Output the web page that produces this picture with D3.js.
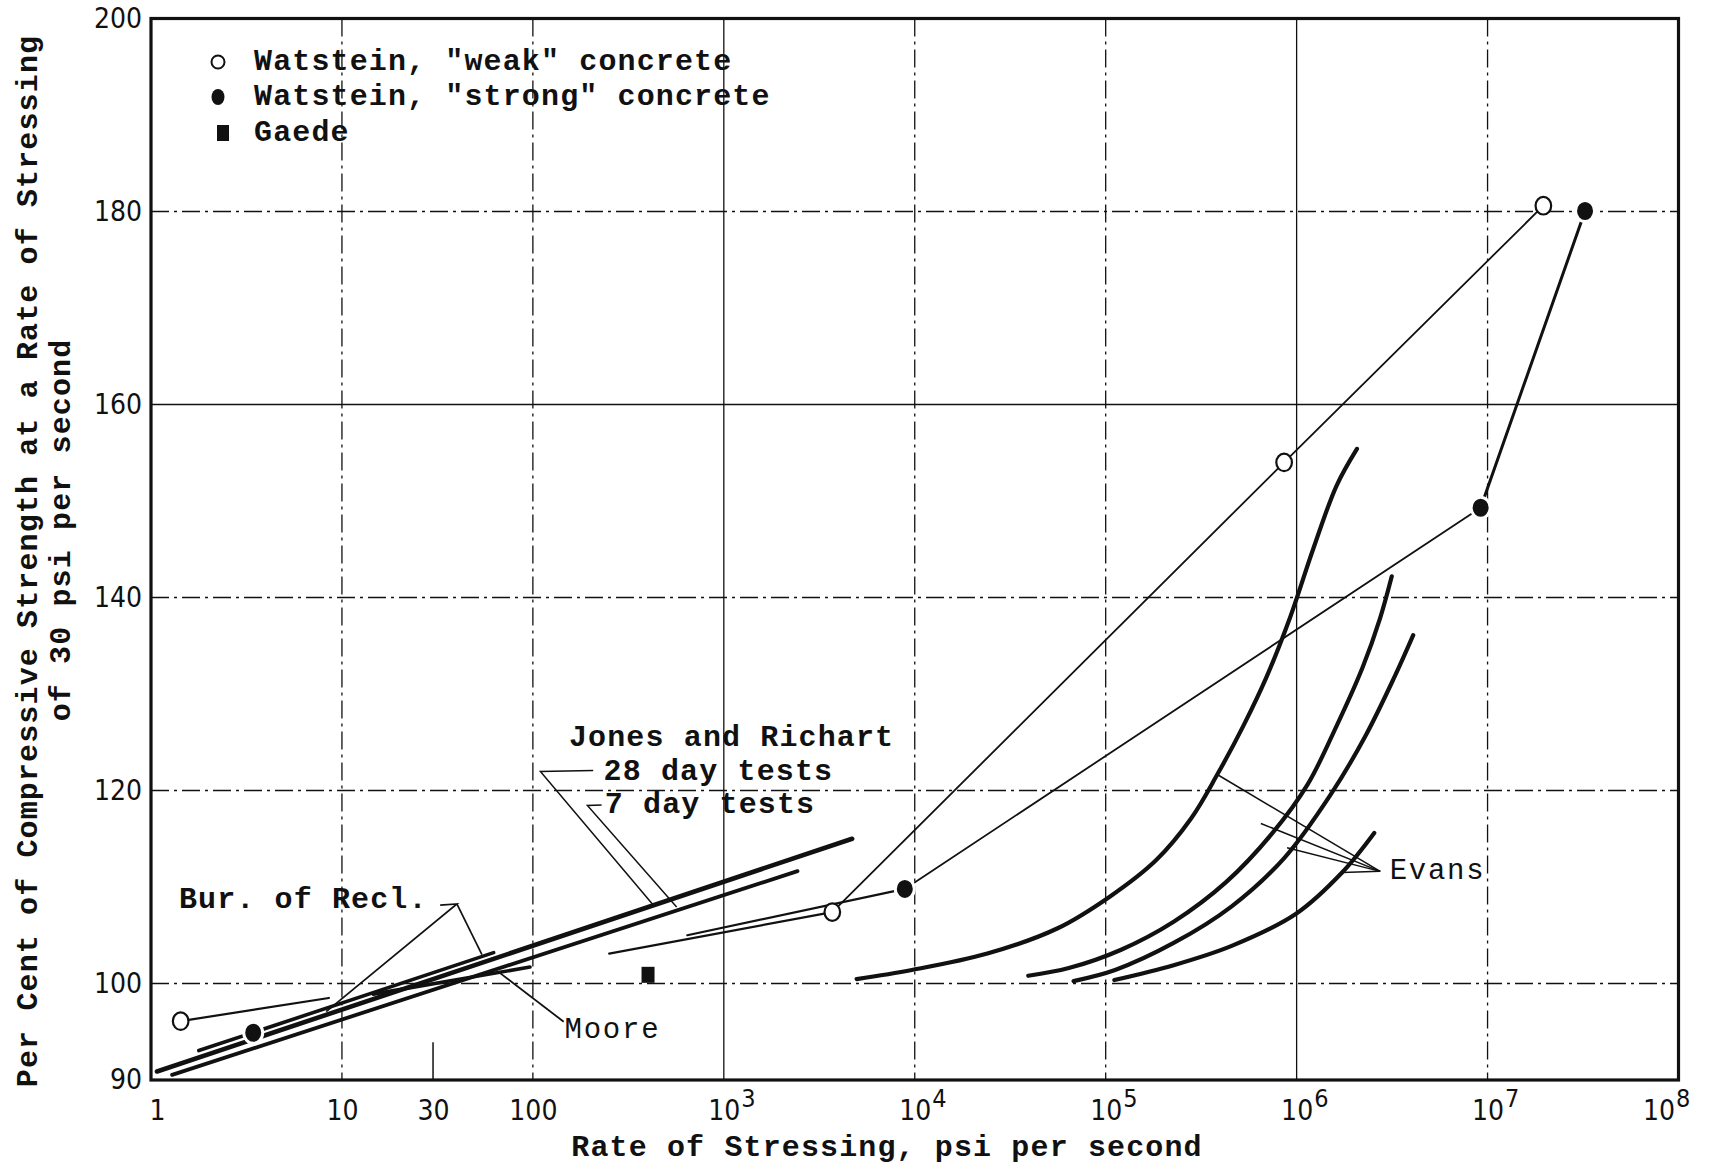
<!DOCTYPE html>
<html><head><meta charset="utf-8">
<script src="https://cdn.jsdelivr.net/npm/d3@7"></script>
<style>
html,body{margin:0;padding:0;background:#fff;}
svg{display:block;background:#fff;}
</style></head><body>
<svg id="chart" width="1709" height="1171"></svg>
<script>
// ---------------- data ----------------
const xTickValues = [1, 10, 30, 100, 1e3, 1e4, 1e5, 1e6, 1e7, 1e8];
const xTickBase   = ["1", "10", "30", "100", "10", "10", "10", "10", "10", "10"];
const xTickExp    = ["", "", "", "", "3", "4", "5", "6", "7", "8"];
const yTickValues = [90, 100, 120, 140, 160, 180, 200];
const gridX = [10, 100, 1e3, 1e4, 1e5, 1e6, 1e7];
const gridY = [100, 120, 140, 160, 180];
const shortMarkX = [30];

const weakPts   = [[1.43, 96.1], [3700, 107.4], [8.6e5, 154.0], [1.96e7, 180.6]];
const strongPts = [[3.43, 94.9], [8870, 109.8], [9.2e6, 149.3], [3.24e7, 180.05]];
const gaedePts  = [[401, 100.9]];

const weakLowFit   = [[1.43, 96.1], [8.54, 98.5]];
const weakMidFit   = [[251, 103.1], [3700, 107.4]];
const strongMidFit = [[644, 105.0], [8870, 109.8]];
const jones28 = [[1.075, 90.88], [4700, 115.0]];
const jones7  = [[1.29, 90.53], [2432, 111.65]];
const burRecl = [[1.78, 93.05], [62.3, 103.2]];
const moore   = [[14.6, 98.9], [96.6, 101.7]];

const evans1 = [[4960,100.46],[9660,101.4],[24000,103.1],[55700,105.7],[105000,109.0],[184000,112.8],[280000,117.1],[384000,121.65],[526000,126.7],[697000,131.8],[923000,137.9],[1.22e6,145.0],[1.62e6,151.6],[2.07e6,155.4]];
const evans2 = [[39300,100.8],[64100,101.6],[120500,103.5],[227000,106.4],[427000,110.5],[748000,115.6],[1.14e6,120.6],[1.62e6,126.7],[2.22e6,132.8],[2.74e6,137.9],[3.15e6,142.2]];
const evans3 = [[67900,100.25],[112000,101.4],[227000,104.2],[457000,108.0],[861000,113.0],[1.51e6,119.6],[2.30e6,125.7],[3.26e6,131.8],[4.08e6,136.1]];
const evans4 = [[111000,100.36],[227000,101.9],[457000,103.9],[989000,107.2],[1.73e6,111.5],[2.55e6,115.6]];

const legendLabels = ['Watstein, "weak" concrete', 'Watstein, "strong" concrete', 'Gaede'];

const leaderJones28 = [[207, 122.06], [109.5, 121.96], [429, 108.09]];
const leaderJones7  = [[229, 118.5], [193, 118.44], [566, 107.92]];
const leaderBurA    = [[32.7, 108.13], [40, 108.24], [8.27, 97.08]];
const leaderBurB    = [[40, 108.24], [54.1, 102.98]];
const leaderMoore   = [[67.6, 101.05], [145, 96.04]];
const evansApex     = [2.74e6, 111.62];
const evansTargets  = [[3.84e5, 121.66], [6.5e5, 116.58], [8.91e5, 114.06], [1.73e6, 111.51]];

const notes = [
  {text: "Jones and Richart", x: 154.5, y: 125.4, bold: true},
  {text: "28 day tests", x: 234.6, y: 121.9, bold: true},
  {text: "7 day tests", x: 238, y: 118.45, bold: true},
  {text: "Bur. of Recl.", x: 1.40, y: 108.66, bold: true},
  {text: "Moore", x: 146.6, y: 95.17, bold: false},
  {text: "Evans", x: 3.07e6, y: 111.57, bold: false}
];

// ---------------- drawing ----------------
const svg = d3.select("#chart");
const x = d3.scaleLog().domain([1, 1e8]).range([151, 1678.5]);
const y = d3.scaleLinear().domain([90, 200]).range([1080, 18.5]);
const line = d3.line().x(d => x(d[0])).y(d => y(d[1]));
const curve = d3.line().x(d => x(d[0])).y(d => y(d[1])).curve(d3.curveCatmullRom.alpha(0.5));

const TW = '"Liberation Mono","Courier New","DejaVu Sans Mono",monospace';
const NUM = '"Liberation Sans Narrow","DejaVu Sans Condensed","Liberation Sans",sans-serif';
const ink = "#111";

// grid
const dashDot = "18,5,3,5";
const solidX = new Set([1e3, 1e6]);
svg.append("g").selectAll("line").data(gridX).join("line")
  .attr("x1", d => x(d)).attr("x2", d => x(d))
  .attr("y1", y(200)).attr("y2", y(90))
  .attr("stroke", ink).attr("stroke-width", 1.3)
  .attr("stroke-dasharray", d => solidX.has(d) ? null : dashDot);
svg.append("g").selectAll("line").data(gridY).join("line")
  .attr("x1", x(1)).attr("x2", x(1e8))
  .attr("y1", d => y(d)).attr("y2", d => y(d))
  .attr("stroke", ink).attr("stroke-width", 1.3)
  .attr("stroke-dasharray", d => d === 160 ? null : dashDot);
svg.append("g").selectAll("line").data(shortMarkX).join("line")
  .attr("x1", d => x(d)).attr("x2", d => x(d))
  .attr("y1", y(90)).attr("y2", y(93.9))
  .attr("stroke", ink).attr("stroke-width", 1.5);

// frame
svg.append("rect")
  .attr("x", x(1)).attr("y", y(200))
  .attr("width", x(1e8) - x(1)).attr("height", y(90) - y(200))
  .attr("fill", "none").attr("stroke", ink).attr("stroke-width", 3.2);

// axes
const yAxis = d3.axisLeft(y).tickValues(yTickValues).tickSize(0).tickPadding(9).tickFormat(d3.format("d"));
const gy = svg.append("g").attr("transform", `translate(${x(1)},0)`).call(yAxis);
gy.select(".domain").remove();
gy.selectAll("text").attr("font-family", NUM).attr("font-size", 28).attr("fill", ink);

const xAxis = d3.axisBottom(x).tickValues(xTickValues).tickSize(0).tickPadding(20).tickFormat((d, i) => xTickBase[i]);
const gx = svg.append("g").attr("transform", `translate(0,${y(90)})`).call(xAxis);
gx.select(".domain").remove();
const lastIdx = xTickValues.length - 1;
gx.selectAll("text").attr("font-family", NUM).attr("font-size", 28).attr("fill", ink)
  .each(function(d, i) {
    const t = d3.select(this);
    if (i === 0) t.attr("x", 6);
    if (xTickExp[i]) {
      const base = t.text();
      t.text(null).attr("text-anchor", "start");
      const b = t.append("tspan").text(base);
      t.append("tspan").text(xTickExp[i]).attr("font-size", 25).attr("dy", "-0.5em").attr("dx", 1);
      const w = b.node().getComputedTextLength();
      t.attr("x", -w / 2 - (i === lastIdx ? 20 : 0));
    }
  });

// data lines
function drawLine(data, w, gen) {
  svg.append("path").datum(data).attr("d", (gen || line))
    .attr("fill", "none").attr("stroke", ink).attr("stroke-width", w)
    .attr("stroke-linecap", "round").attr("stroke-linejoin", "round");
}
drawLine(jones28, 4.6);
drawLine(jones7, 3.8);
drawLine(burRecl, 3.6);
drawLine(moore, 3.6);
drawLine(weakLowFit, 2.2);
drawLine(weakMidFit, 2.2);
drawLine(strongMidFit, 2.2);
drawLine(weakPts.slice(1), 1.8);
drawLine(strongPts.slice(1, 3), 1.8);
drawLine(strongPts.slice(2), 3.0);
[evans1, evans2, evans3, evans4].forEach(e => drawLine(e, 4.2, curve));

// leaders
function leader(data, w) {
  svg.append("path").datum(data).attr("d", line)
    .attr("fill", "none").attr("stroke", ink).attr("stroke-width", w || 1.6);
}
leader(leaderJones28, 1.5);
leader(leaderJones7, 1.5);
leader(leaderBurA, 1.7);
leader(leaderBurB, 1.7);
leader(leaderMoore, 1.8);
evansTargets.forEach(t => leader([t, evansApex], 1.5));

// markers
svg.append("g").selectAll("ellipse").data(strongPts).join("ellipse")
  .attr("cx", d => x(d[0])).attr("cy", d => y(d[1])).attr("rx", 9.5).attr("ry", 10.5)
  .attr("fill", ink).attr("stroke", "#fff").attr("stroke-width", 3);
svg.append("g").selectAll("ellipse").data(weakPts).join("ellipse")
  .attr("cx", d => x(d[0])).attr("cy", d => y(d[1])).attr("rx", 7.8).attr("ry", 8.8)
  .attr("fill", "#fff").attr("stroke", ink).attr("stroke-width", 2.2);
svg.append("g").selectAll("rect").data(gaedePts).join("rect")
  .attr("x", d => x(d[0]) - 6.5).attr("y", d => y(d[1]) - 8)
  .attr("width", 13).attr("height", 16).attr("fill", ink);

// typewriter text helper
function tw(txt, px, py, opts) {
  opts = opts || {};
  const rot = opts.rotate ? " rotate(-90)" : "";
  const size = opts.size || 30;
  return svg.append("text")
    .attr("transform", `translate(${px},${py})${rot}`)
    .attr("font-family", TW).attr("font-size", size)
    .attr("letter-spacing", (19.13 - size * 0.6).toFixed(2))
    .attr("font-weight", opts.bold === false ? "normal" : "bold")
    .attr("text-anchor", opts.anchor || "start")
    .attr("dominant-baseline", "central")
    .attr("fill", ink).text(txt);
}

// legend
const legRowsY = [62, 97, 133];
svg.append("circle").attr("cx", 218).attr("cy", legRowsY[0]).attr("r", 6.5)
  .attr("fill", "#fff").attr("stroke", ink).attr("stroke-width", 2);
svg.append("ellipse").attr("cx", 218).attr("cy", legRowsY[1]).attr("rx", 6.5).attr("ry", 8).attr("fill", ink);
svg.append("rect").attr("x", 217).attr("y", legRowsY[2] - 8).attr("width", 12).attr("height", 16).attr("fill", ink);
legendLabels.forEach((t, i) => tw(t, 254, legRowsY[i]));

// annotations
notes.forEach(n => tw(n.text, x(n.x), y(n.y), {bold: n.bold, size: n.bold ? 30 : 29}));

// axis titles
tw("Rate of Stressing, psi per second", 887, 1148, {anchor: "middle"});
tw("Per Cent of Compressive Strength at a Rate of Stressing", 29, 561, {anchor: "middle", rotate: true});
tw("of 30 psi per second", 62, 530, {anchor: "middle", rotate: true});
</script></body></html>
